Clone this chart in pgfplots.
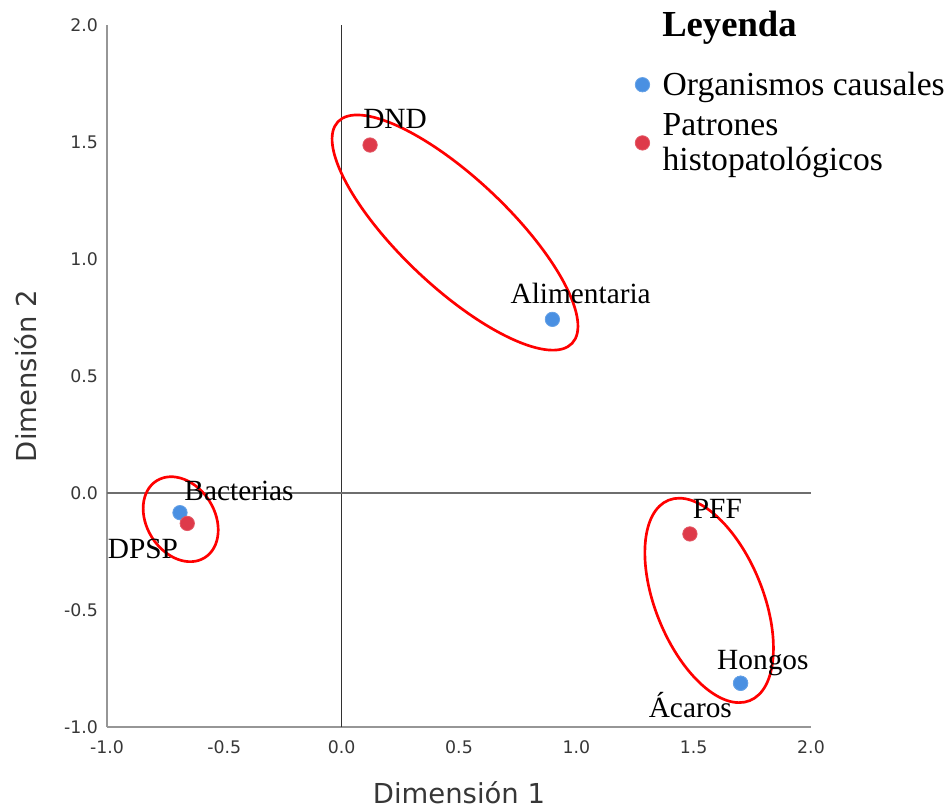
\documentclass[border=0pt]{standalone}
\usepackage{fontspec}
\setmainfont{Liberation Serif}
\newfontfamily\dejavu{DejaVu Sans}
\usepackage{pgfplots}
\usepackage{pgfplotstable}
\pgfplotsset{compat=1.18}
\definecolor{ptblue}{RGB}{74,144,226}
\definecolor{ptred}{RGB}{222,58,74}
\definecolor{spine}{RGB}{150,150,150}
\definecolor{zeroh}{RGB}{110,110,110}
\definecolor{zerov}{RGB}{50,50,50}
\definecolor{txtgray}{RGB}{55,55,55}
\pgfplotsset{dotlegend/.style={legend image code/.code={\draw[##1] plot coordinates {(0pt,0pt)};}}}

\pgfplotstableread{
x y label dx dy
0.898 0.742 Alimentaria 21.2 12.2
-0.689 -0.084 Bacterias 44.3 8.8
1.700 -0.813 Hongos 16.7 10
1.700 -0.813 Ácaros -37.7 -26
}\organismos

\pgfplotstableread{
x y label dx dy
0.121 1.487 DND 18.75 12.75
-0.658 -0.130 DPSP -33.2 -26
1.484 -0.175 PFF 20.6 11.25
}\patrones

\begin{document}
\begin{tikzpicture}
\begin{axis}[name=ax, scale only axis, width=528pt, height=526.5pt,
  xmin=-1, xmax=2, ymin=-1, ymax=2, clip=false,
  axis x line*=bottom, axis y line*=left,
  axis line style={draw=spine, line width=1.1pt},
  xtick={-1,-0.5,0,0.5,1,1.5,2},
  xticklabels={-1.0,-0.5,0.0,0.5,1.0,1.5,2.0},
  ytick={-1,-0.5,0,0.5,1,1.5,2},
  yticklabels={-1.0,-0.5,0.0,0.5,1.0,1.5,2.0},
  major tick length=0pt,
  tick style={draw=none},
  ticklabel style={font=\dejavu\fontsize{13}{16}\selectfont, text=txtgray},
  xticklabel style={yshift=-7pt},
  yticklabel style={xshift=-3.25pt},
  extra x ticks={0}, extra x tick labels={},
  extra x tick style={grid=major, major grid style={draw=zerov, line width=1.1pt}},
  extra y ticks={0}, extra y tick labels={},
  extra y tick style={grid=major, major grid style={draw=zeroh, line width=1.4pt}},
  xlabel={Dimensión 1}, ylabel={Dimensión 2},
  every axis x label/.style={at={(rel axis cs:0.5,0)}, anchor=base, yshift=-57pt,
    font=\dejavu\fontsize{20.6}{24}\selectfont, text=txtgray},
  every axis y label/.style={at={(rel axis cs:0,0.5)}, xshift=-52.5pt, anchor=base, rotate=90,
    font=\dejavu\fontsize{20.6}{24}\selectfont, text=txtgray},
  legend style={at={(axis cs:1.25,1.80)}, anchor=north west, draw=none, fill=none,
    inner sep=0pt, row sep=12pt, column sep=9.75pt,
    font=\fontsize{25.2}{26.3}\selectfont,
    nodes={inner sep=0pt, align=left}},
  legend cell align=left,
]
\addplot[only marks, mark=*, mark size=5.4pt,
  mark options={fill=ptblue, draw=ptblue!85!white, line width=0.6pt},
  dotlegend,
  point meta=explicit symbolic, nodes near coords,
  visualization depends on={\thisrow{dx} \as \dx},
  visualization depends on={\thisrow{dy} \as \dy},
  every node near coord/.append style={anchor=base, xshift=\dx pt, yshift=\dy pt,
    text=black, font=\fontsize{22}{26}\selectfont, inner sep=0pt}]
  table[x=x, y=y, meta=label] {\organismos};
\addlegendentry{Organismos causales}
\addplot[only marks, mark=*, mark size=5.4pt,
  mark options={fill=ptred, draw=ptred!85!white, line width=0.6pt},
  dotlegend,
  point meta=explicit symbolic, nodes near coords,
  visualization depends on={\thisrow{dx} \as \dx},
  visualization depends on={\thisrow{dy} \as \dy},
  every node near coord/.append style={anchor=base, xshift=\dx pt, yshift=\dy pt,
    text=black, font=\fontsize{22}{26}\selectfont, inner sep=0pt}]
  table[x=x, y=y, meta=label] {\patrones};
\addlegendentry{Patrones\\histopatológicos}

\draw[red, line width=2pt, rotate around={-43.4:(axis cs:0.483,1.113)}]
  (axis cs:0.483,1.113) ellipse [x radius=120.9pt, y radius=40.7pt];
\draw[red, line width=2pt, rotate around={-58:(axis cs:-0.686,-0.112)}]
  (axis cs:-0.686,-0.112) ellipse [x radius=34pt, y radius=25.5pt];
\draw[red, line width=2pt, rotate around={-67.9:(axis cs:1.566,-0.459)}]
  (axis cs:1.566,-0.459) ellipse [x radius=81.1pt, y radius=40.3pt];

\node[anchor=base west, font=\bfseries\fontsize{27.5}{30}\selectfont, inner sep=0pt]
  at (axis cs:1.365,1.949) {Leyenda};
\end{axis}
\path (ax.south west) ++(-80.25pt,-59.25pt) rectangle ++(711.75pt,604.5pt);
\end{tikzpicture}
\end{document}
